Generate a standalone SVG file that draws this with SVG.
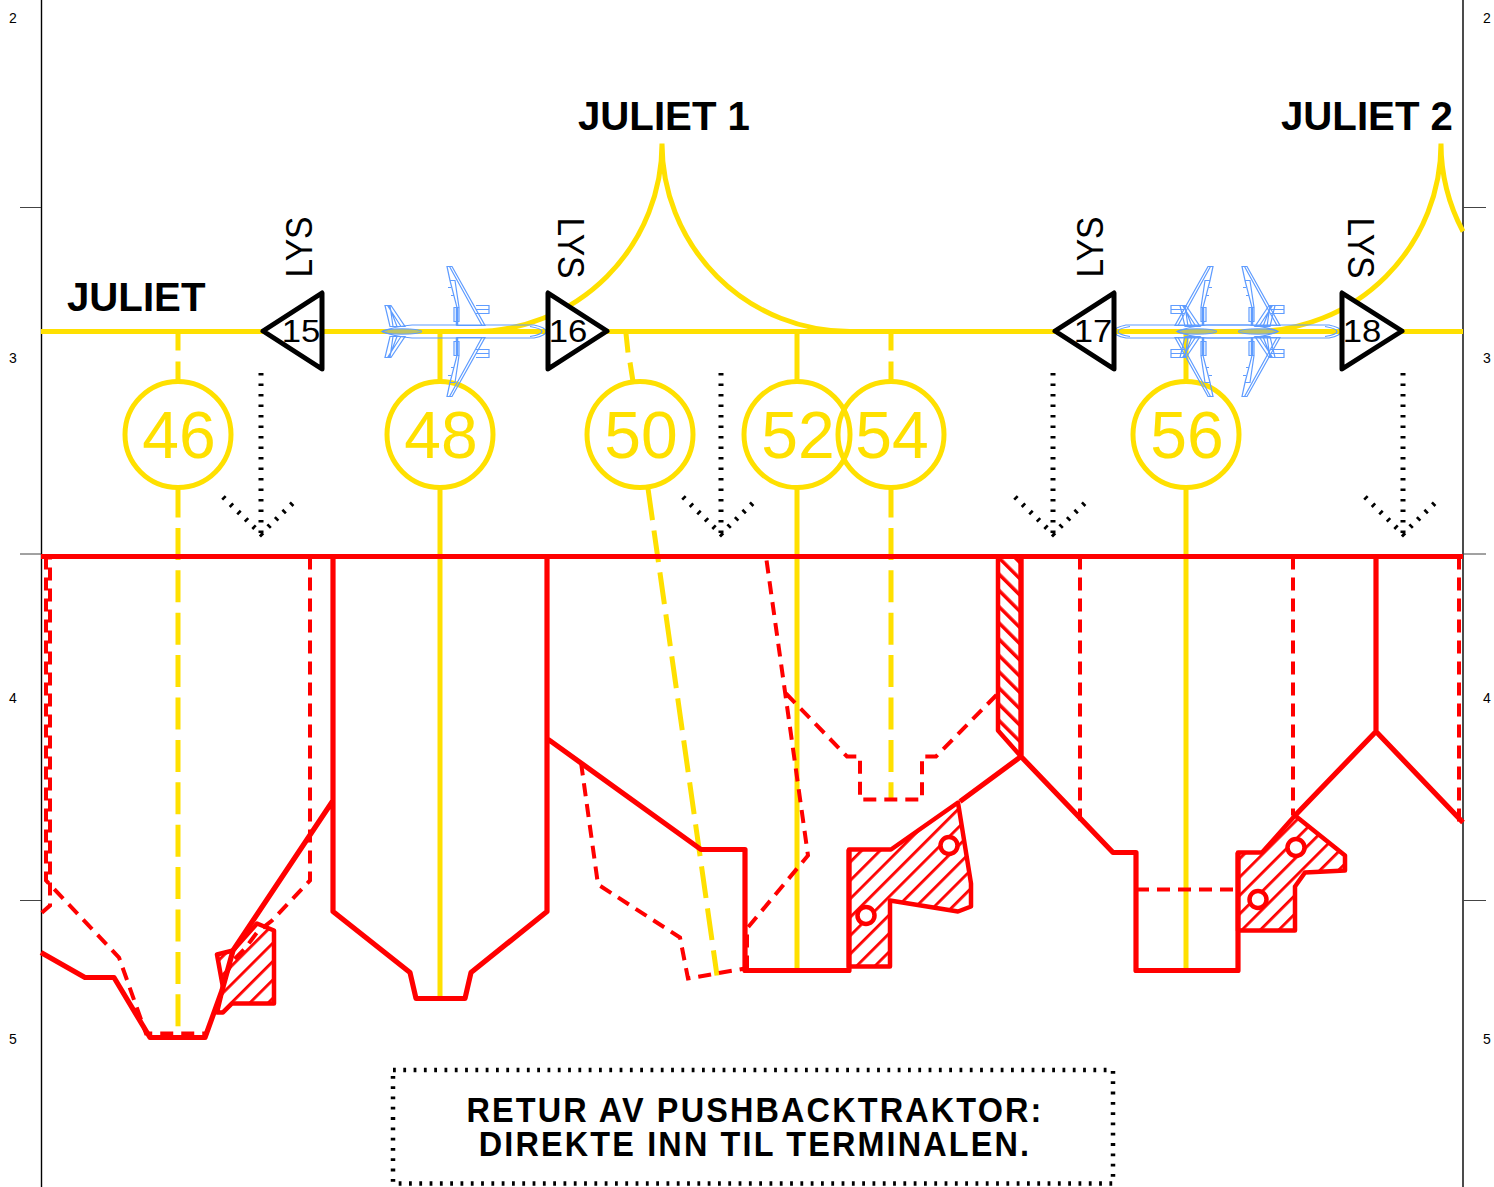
<svg xmlns="http://www.w3.org/2000/svg" xmlns:xlink="http://www.w3.org/1999/xlink" width="1494" height="1187" viewBox="0 0 1494 1187">
<style>
text{font-family:"Liberation Sans",Arial,sans-serif}
.frame{stroke:#000;stroke-width:1.4;fill:none}
.tick{stroke:#444;stroke-width:1;fill:none}
.num{font-size:14px;text-anchor:middle;fill:#000}
.y{stroke:#ffe000;stroke-width:5;fill:none}
.yd{stroke:#ffe000;stroke-width:5;fill:none;stroke-dasharray:32 10.4}
.c{stroke:#ffe000;stroke-width:5;fill:none}
.ct{font-size:66px;fill:#ffe000;text-anchor:middle}
.r{stroke:#f00;stroke-width:5.2;fill:none;stroke-linejoin:round}
.rd{stroke:#f00;stroke-width:4;fill:none;stroke-dasharray:13 8}
.h1{fill:url(#hatch1);stroke:#f00;stroke-width:4.5;stroke-linejoin:round}
.h2{fill:url(#hatch2);stroke:#f00;stroke-width:4.5;stroke-linejoin:round}
.o{fill:#fff;stroke:#f00;stroke-width:4.5}
.tri{fill:#fff;stroke:#000;stroke-width:5;stroke-linejoin:round}
.tt{font-size:31px;fill:#000;text-anchor:middle}
.lys{font-size:37px;fill:#000;text-anchor:middle}
.b{font-size:40.2px;font-weight:bold;fill:#000}
.dot{stroke:#000;stroke-width:5;fill:none;stroke-dasharray:2.6 7.9}
.box{stroke:#000;stroke-width:4.5;fill:none;stroke-dasharray:2.8 7.5}
.note{font-size:36px;font-weight:bold;fill:#000;text-anchor:middle;letter-spacing:2.4px}
.p{fill:none;stroke:#5f9cff;stroke-width:1.2}
</style>
<defs>
<pattern id="hatch1" width="13" height="13" patternUnits="userSpaceOnUse" patternTransform="rotate(45)"><rect width="13" height="13" fill="#fff"/><rect width="2.800" height="13" fill="#f00"/></pattern>
<pattern id="hatch2" width="11.5" height="11.5" patternUnits="userSpaceOnUse" patternTransform="rotate(-45)"><rect width="11.5" height="11.5" fill="#fff"/><rect width="3.5" height="11.5" fill="#f00"/></pattern>
<g id="halfplane">
<path class="p" d="M65,-65 L70,-65 L103,-6 L75,-6 L75,-24 L68,-51 Z M67.500,-65 L100,-6 M68,-51 L73,-51 L77,-24 L75,-24 M72,-24 h5 v14 h-5 Z M66,-44 h3 M69,-36 h3 M94,-26 h13 v8 h-13 M94,-22 h13 M3,-26 L9,-26 L23,-5 L8,-5 Z M5.500,-26 L19,-5 M7,-26 L15,-5 M8,-26 L11,-5"/>
<path d="M75,-6 V-24" stroke="#5f9cff" stroke-width="2.500" fill="none"/>
</g>
<g id="plane">
<use href="#halfplane" xlink:href="#halfplane"/>
<use href="#halfplane" xlink:href="#halfplane" transform="scale(1,-1)"/>
<path class="p" d="M30,-6.500 L152,-6.500 Q164,-4 164,0 Q164,4 152,6.500 L30,6.500 Q12,5 0,0 Q12,-5 30,-6.500 Z M148,-5 Q160,-3 160,0 Q160,3 148,5"/>
<ellipse cx="20" cy="0" rx="20" ry="2.700" fill="#5f9cff" fill-opacity=".4" stroke="#5f9cff" stroke-width="1"/>
</g>
</defs>
<rect width="1494" height="1187" fill="#fff"/>

<g id="frame">
<path class="frame" d="M41.500,0 V1187 M1463,0 V1187"/>
<path class="tick" d="M20,207.500 H41 M20,554 H41 M20,900.500 H41 M1463,207.500 H1486 M1463,554 H1486 M1463,900.500 H1486"/>
<text class="num" x="13" y="23">2</text><text class="num" x="13" y="363">3</text><text class="num" x="13" y="703">4</text><text class="num" x="13" y="1044">5</text>
<text class="num" x="1487" y="23">2</text><text class="num" x="1487" y="363">3</text><text class="num" x="1487" y="703">4</text><text class="num" x="1487" y="1044">5</text>
</g>

<g id="connectors" transform="translate(0,.5)">
<path class="y" d="M41,331 H1463"/>
<path class="y" d="M662,143 A188,188 0 0 1 474,331 M662,143 A188,188 0 0 0 850,331"/>
<path class="y" d="M1441,143 A188,188 0 0 1 1253,331 M1441,143 A188,188 0 0 0 1463,231"/>
<path class="y" d="M178,331 V350 M178,361 V381"/>
<path class="yd" d="M178,487 V1032" stroke-dashoffset="2"/>
<path class="y" d="M440,331 V381 M440,487 V998"/>
<path class="y" d="M626,333 L628,352 M630,362 L633,381"/>
<path class="yd" d="M648,488 L717,975"/>
<path class="y" d="M797,331 V381 M797,487 V970"/>
<path class="y" d="M891,331 V350 M891,361 V381"/>
<path class="yd" d="M891,487 V800" stroke-dashoffset="2"/>
<path class="y" d="M1186,331 V381 M1186,487 V970"/>
</g>

<g id="stand-46"><circle class="c" cx="178" cy="434.500" r="53"/><text class="ct" x="179" y="458">46</text></g>
<g id="stand-48"><circle class="c" cx="440" cy="434.500" r="53"/><text class="ct" x="441" y="458">48</text></g>
<g id="stand-50"><circle class="c" cx="640" cy="434.500" r="53"/><text class="ct" x="641" y="458">50</text></g>
<g id="stand-52"><circle class="c" cx="797" cy="434.500" r="53"/><text class="ct" x="798" y="458">52</text></g>
<g id="stand-54"><circle class="c" cx="891" cy="434.500" r="53"/><text class="ct" x="892" y="458">54</text></g>
<g id="stand-56"><circle class="c" cx="1186" cy="434.500" r="53"/><text class="ct" x="1187" y="458">56</text></g>

<g id="hatched" transform="translate(0,.5)">
<path class="h1" d="M217,954 L233,950 L257,923 L274,930 V1003 H232 L223,1012 H217 L223,987 Z"/>
<path class="h1" d="M849,849 H891 L958,802 L971,883 V906 L958,911 L890,900 V966 H849 Z"/>
<path class="h1" d="M1238,852 H1262 L1295,815 L1345,855 V870 L1305,872 L1295,886 V930 H1238 Z"/>
<path class="h2" d="M998,556 V730 L1021,756 V556 Z"/>
<circle class="o" cx="866" cy="915" r="8.500"/><circle class="o" cx="949" cy="845" r="8.500"/>
<circle class="o" cx="1296" cy="847" r="8.500"/><circle class="o" cx="1258" cy="899" r="8.500"/>
</g>

<g id="red-dashed" transform="translate(0,.5)">
<path class="rd" d="M50,556 V905 L41,913" stroke-dashoffset="10"/>
<path class="rd" d="M46,556 V880 L119,957 L146,1033 H205"/>
<path class="rd" d="M310,556 V880 L272,920 L257,932 L245,948 L233,960 L223,980"/>
<path class="rd" d="M581,762 L598,884 L680,937 L688,978 L745,968 M747,968 V928 L808,855 L766,556"/>
<path class="rd" d="M786,693 L847,756 H860 V799 H922 V756 H936 L998,693"/>
<path class="rd" d="M1080,556 V820 M1293,556 V815 M1459,556 V822 M1136,889 H1238"/>
</g>

<g id="red-solid" transform="translate(0,.5)">
<path class="r" d="M41,556 H1463"/>
<path class="r" d="M41,952 L85,977 H114 L150,1037 H205 L222,990 L233,950 L333,800 V556 M333,800 V911 L410,972 L416,998 H465 L471,972 L547,911 V556 M547,738 L701,849 H745 V970 H849 V849 M960,801 L1021,756 V556 M1021,756 L1113,852 H1136 V970 H1238 V852 M1295,815 L1376,731 V556 M1376,731 L1463,822"/>
</g>

<g id="plane-1"><use href="#plane" xlink:href="#plane" transform="translate(382,331.500)"/></g>
<g id="plane-2"><use href="#plane" xlink:href="#plane" transform="translate(1177,331.500)"/></g>
<g id="plane-3"><use href="#plane" xlink:href="#plane" transform="translate(1278,331.500) scale(-1,1)"/></g>

<g id="light-15"><polygon class="tri" points="322,293 322,369 263,331"/><text class="tt" transform="translate(301,342) scale(1.12,1)">15</text><text class="lys" transform="translate(312,247) rotate(-90) scale(.91,1)">LYS</text></g>
<g id="light-16"><polygon class="tri" points="548,293 548,369 607,331"/><text class="tt" transform="translate(568,342) scale(1.12,1)">16</text><text class="lys" transform="translate(558,248) rotate(90) scale(.91,1)">LYS</text></g>
<g id="light-17"><polygon class="tri" points="1114,293 1114,369 1055,331"/><text class="tt" transform="translate(1093,342) scale(1.12,1)">17</text><text class="lys" transform="translate(1103,247) rotate(-90) scale(.91,1)">LYS</text></g>
<g id="light-18"><polygon class="tri" points="1342,293 1342,369 1402,331"/><text class="tt" transform="translate(1362,342) scale(1.12,1)">18</text><text class="lys" transform="translate(1348,248) rotate(90) scale(.91,1)">LYS</text></g>

<g id="arrows">
<path class="dot" d="M261,373 V534 M223,497 L261,534 L296,500"/>
<path class="dot" d="M721,373 V534 M683,497 L721,534 L756,500"/>
<path class="dot" d="M1053,373 V534 M1015,497 L1053,534 L1088,500"/>
<path class="dot" d="M1403,373 V534 M1365,497 L1403,534 L1438,500"/>
</g>

<g id="labels">
<text class="b" x="67" y="311">JULIET</text>
<text class="b" x="578" y="130">JULIET 1</text>
<text class="b" x="1281" y="130">JULIET 2</text>
</g>

<g id="note">
<rect class="box" x="393" y="1070" width="720" height="113.500"/>
<text class="note" transform="translate(755,1122) scale(.9,1)">RETUR AV PUSHBACKTRAKTOR:</text>
<text class="note" transform="translate(755,1156) scale(.9,1)">DIREKTE INN TIL TERMINALEN.</text>
</g>
</svg>
